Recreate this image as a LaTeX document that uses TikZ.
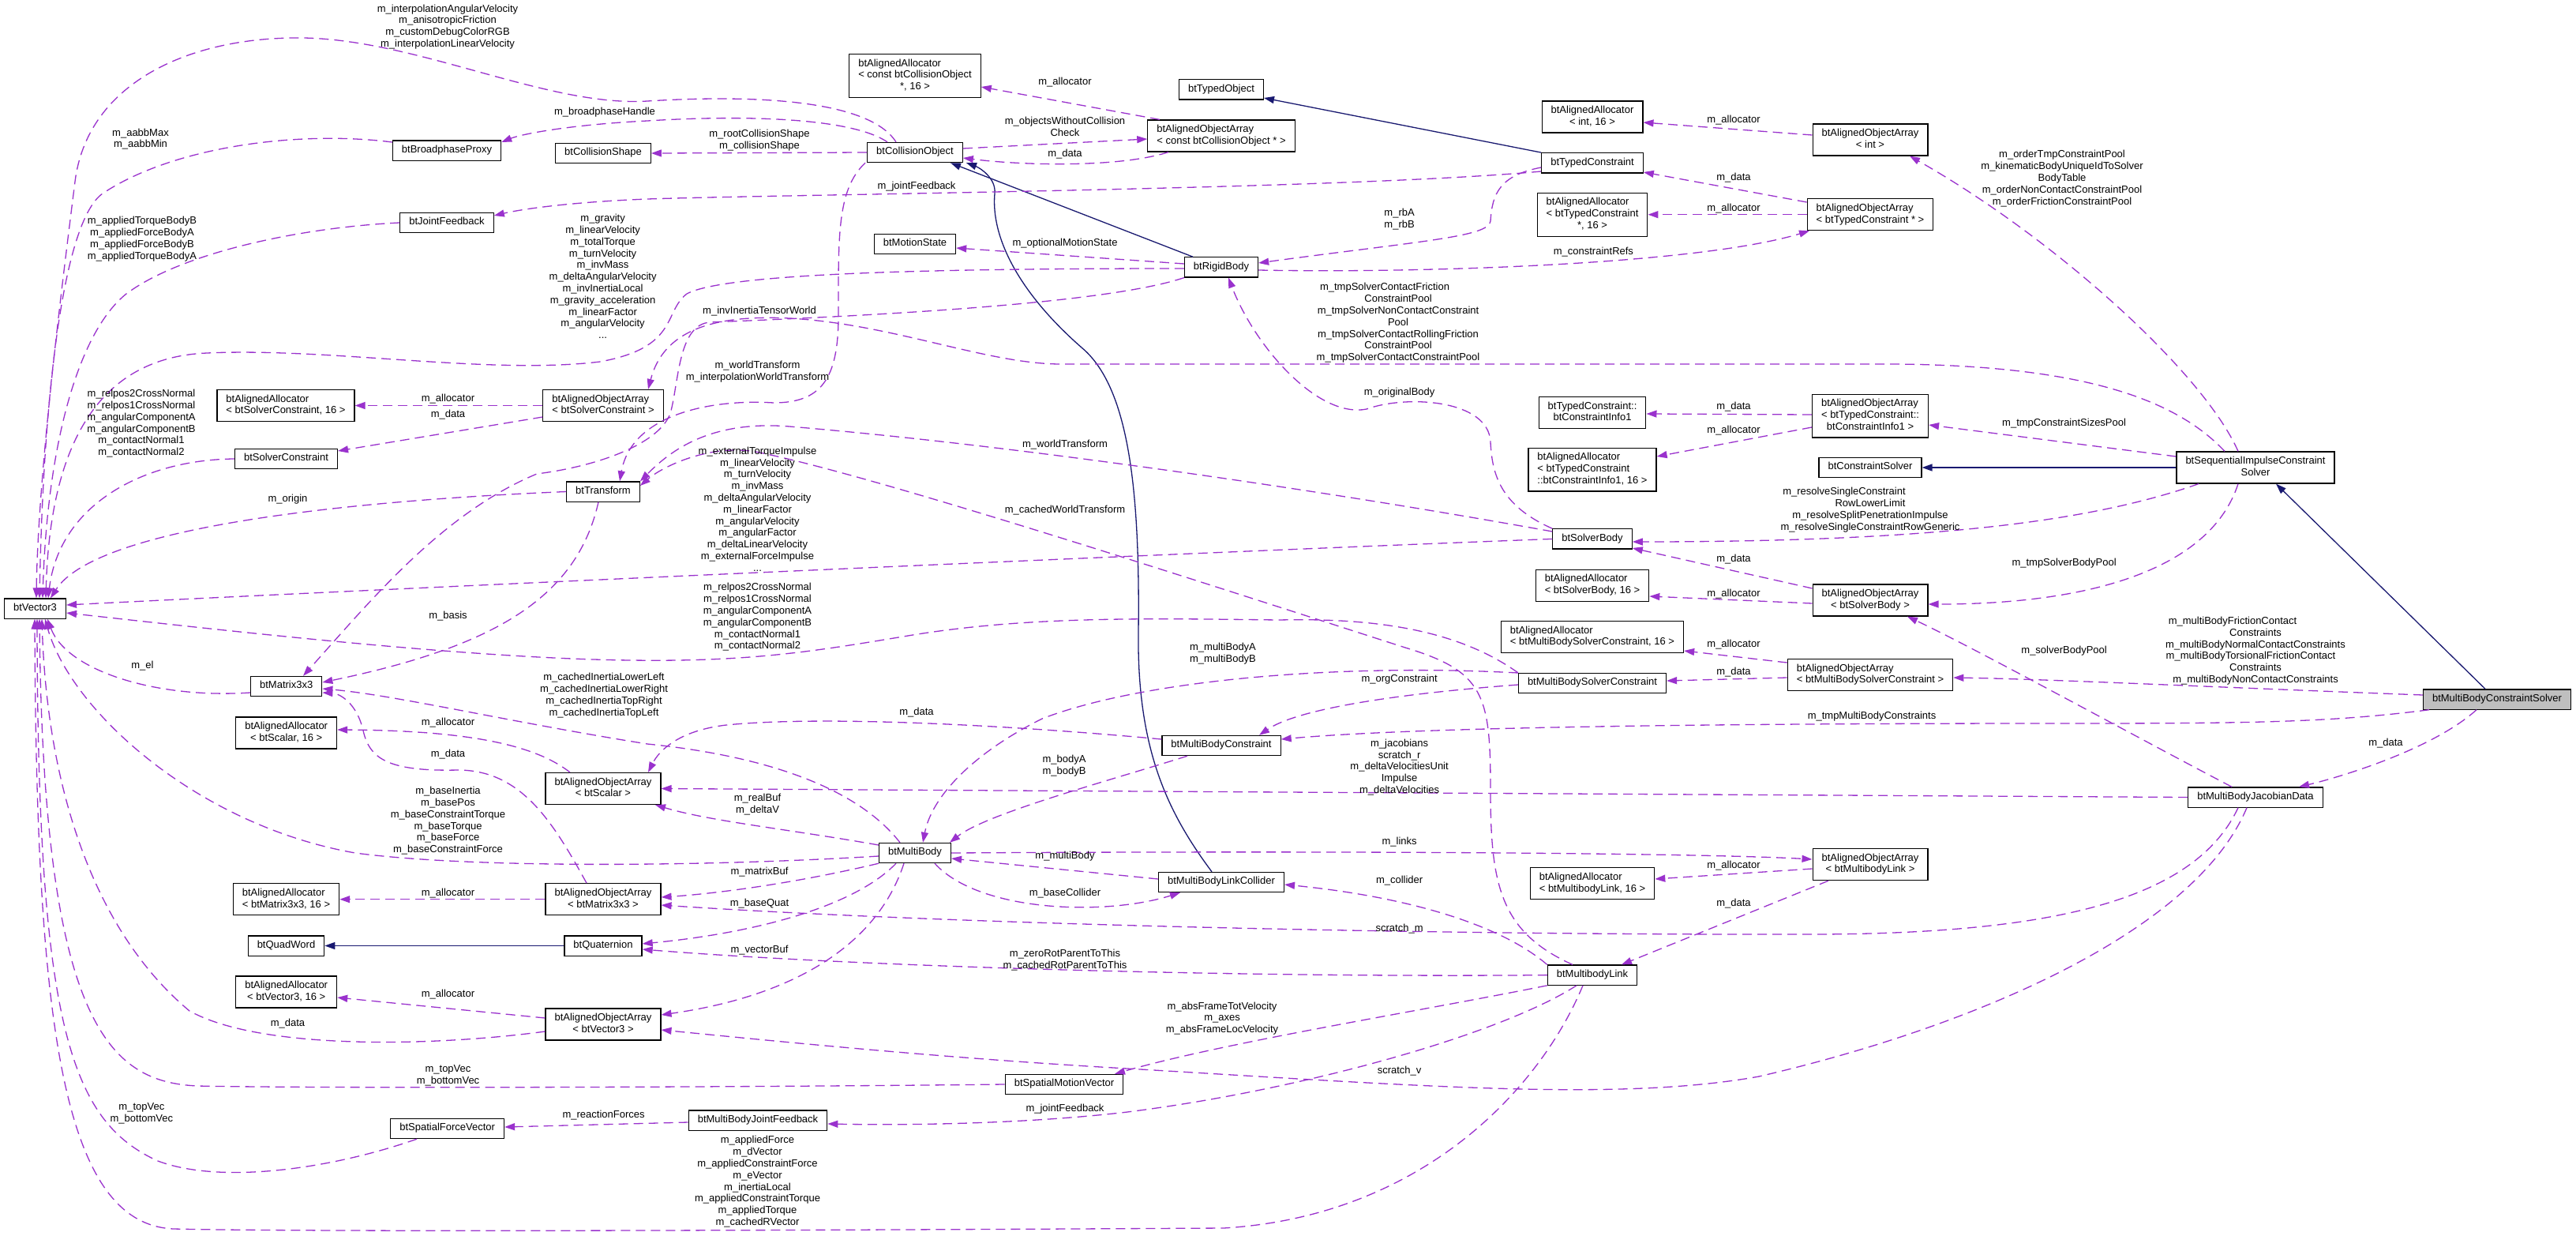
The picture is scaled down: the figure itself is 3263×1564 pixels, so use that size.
\documentclass[tikz,border=0pt]{standalone}
\usepackage{fontspec}
\setmainfont{Liberation Sans}
\usepackage{tikz}
\usetikzlibrary{arrows.meta}
\usetikzlibrary{calc}
\usepackage{xcolor}

\definecolor{memberpurple}{HTML}{9A32CD}
\definecolor{inheritblue}{HTML}{191970}
\definecolor{focusgrey}{HTML}{BFBFBF}

% class boxes with two or three lines: last line centred
\newcommand{\twol}[2]{\begin{tabular}{@{}l@{}}#1\\\multicolumn{1}{@{}c@{}}{#2}\end{tabular}}
\newcommand{\threel}[3]{\begin{tabular}{@{}l@{}}#1\\#2\\\multicolumn{1}{@{}c@{}}{#3}\end{tabular}}

\begin{document}
\begin{tikzpicture}[x=1pt, y=-1pt]
        % ================= styles =================
        \tikzset{
            % class box: white with black frame
            cnode/.style={draw=black, line width=1.2pt, fill=white, font=\fontsize{13}{14.8}\selectfont,
                inner xsep=11.5pt, inner ysep=5.2pt, execute at begin node=\strut},
            % member relation: purple dashed
            member_edge/.style={draw=memberpurple, line width=1.3pt, dash pattern=on 12pt off 7pt,
                -{Triangle[length=13pt,width=9pt]}},
            % inheritance: dark blue solid
            inherit_edge/.style={draw=inheritblue, line width=1.3pt, -{Triangle[length=13pt,width=9pt]}},
            % edge labels
            lbl/.style={font=\fontsize{13}{14.8}\selectfont, align=center, inner sep=0pt}
        }
        \fill[white] (0,0) rectangle (3263,1564);
        \useasboundingbox (0,0) rectangle (3263,1564);

        % ================= class nodes =================
        \node[cnode] (vec3) at (44.5,770.5) {btVector3};
        \node[cnode] (bpproxy) at (566,190.5) {btBroadphaseProxy};
        \node[cnode] (colshape) at (764,194) {btCollisionShape};
        \node[cnode] (jointfb) at (566,282) {btJointFeedback};
        \node[cnode] (aaSolvCon) at (362,513.5) {\twol{btAlignedAllocator}{< btSolverConstraint, 16 >}};
        \node[cnode] (aoaSolvCon) at (764,513.5) {\twol{btAlignedObjectArray}{< btSolverConstraint >}};
        \node[cnode] (solvcon) at (362.5,581) {btSolverConstraint};
        \node[cnode] (transform) at (764,622.5) {btTransform};
        \node[cnode] (matrix) at (362.7,869) {btMatrix3x3};
        \node[cnode] (aaScalar) at (362.7,928) {\twol{btAlignedAllocator}{< btScalar, 16 >}};
        \node[cnode] (aoaScalar) at (764,998.5) {\twol{btAlignedObjectArray}{< btScalar >}};
        \node[cnode] (aaMatrix) at (362.5,1138.7) {\twol{btAlignedAllocator}{< btMatrix3x3, 16 >}};
        \node[cnode] (aoaMatrix) at (764,1138.7) {\twol{btAlignedObjectArray}{< btMatrix3x3 >}};
        \node[cnode] (quadword) at (362.5,1197.5) {btQuadWord};
        \node[cnode] (quat) at (764,1197.5) {btQuaternion};
        \node[cnode] (aaVec) at (362.7,1256) {\twol{btAlignedAllocator}{< btVector3, 16 >}};
        \node[cnode] (aoaVec) at (764,1297) {\twol{btAlignedObjectArray}{< btVector3 >}};
        \node[cnode] (sforce) at (566.7,1429) {btSpatialForceVector};
        \node[cnode] (multibody) at (1159,1080) {btMultiBody};
        \node[cnode] (mbjointfb) at (960,1418.5) {btMultiBodyJointFeedback};
        \node[cnode] (smotion) at (1348,1373) {btSpatialMotionVector};
        \node[cnode] (linkcol) at (1547,1117) {btMultiBodyLinkCollider};
        \node[cnode] (mbcon) at (1547,944) {btMultiBodyConstraint};
        \node[cnode] (mbsolvcon) at (2017,865) {btMultiBodySolverConstraint};
        \node[cnode] (colobj) at (1159,193) {btCollisionObject};
        \node[cnode] (motion) at (1159,309) {btMotionState};
        \node[cnode] (aaColObj) at (1159,96) {\threel{btAlignedAllocator}{< const btCollisionObject}{ *, 16 >}};
        \node[cnode] (aoaColObj) at (1547,172) {\twol{btAlignedObjectArray}{< const btCollisionObject * >}};
        \node[cnode] (typedobj) at (1547,113.4) {btTypedObject};
        \node[cnode] (rigid) at (1547,338.4) {btRigidBody};
        \node[cnode] (typedcon) at (2017,206.3) {btTypedConstraint};
        \node[cnode] (aaInt) at (2017,148) {\twol{btAlignedAllocator}{< int, 16 >}};
        \node[cnode] (aoaInt) at (2369,177) {\twol{btAlignedObjectArray}{< int >}};
        \node[cnode] (aaTypedCon) at (2017,271.7) {\threel{btAlignedAllocator}{< btTypedConstraint}{ *, 16 >}};
        \node[cnode] (aoaTypedCon) at (2369,271.7) {\twol{btAlignedObjectArray}{< btTypedConstraint * >}};
        \node[cnode] (info) at (2017,522.6) {\twol{btTypedConstraint::}{btConstraintInfo1}};
        \node[cnode] (aoaInfo) at (2369,526.5) {\threel{btAlignedObjectArray}{< btTypedConstraint::}{btConstraintInfo1 >}};
        \node[cnode] (aaInfo) at (2017,594.5) {\threel{btAlignedAllocator}{< btTypedConstraint}{::btConstraintInfo1, 16 >}};
        \node[cnode] (consolver) at (2369,592) {btConstraintSolver};
        \node[cnode] (solvbody) at (2017,682.4) {btSolverBody};
        \node[cnode] (aaSolvBody) at (2017,741.3) {\twol{btAlignedAllocator}{< btSolverBody, 16 >}};
        \node[cnode] (aoaSolvBody) at (2369,760) {\twol{btAlignedObjectArray}{< btSolverBody >}};
        \node[cnode] (aaMBSolvCon) at (2017,806.5) {\twol{btAlignedAllocator}{< btMultiBodySolverConstraint, 16 >}};
        \node[cnode] (aoaMBSolvCon) at (2369,854.5) {\twol{btAlignedObjectArray}{< btMultiBodySolverConstraint >}};
        \node[cnode] (seqsolver) at (2857,592) {\twol{btSequentialImpulseConstraint}{Solver}};
        \node[cnode, fill=focusgrey] (mbsolver) at (3163,885.5) {btMultiBodyConstraintSolver};
        \node[cnode] (jacobian) at (2857,1009.5) {btMultiBodyJacobianData};
        \node[cnode] (aaLink) at (2017,1118.8) {\twol{btAlignedAllocator}{< btMultibodyLink, 16 >}};
        \node[cnode] (aoaLink) at (2369,1094.6) {\twol{btAlignedObjectArray}{< btMultibodyLink >}};
        \node[cnode] (mblink) at (2017,1234.6) {btMultibodyLink};

        % ================= inheritance =================
        \draw[inherit_edge] (rigid.north -| 1511,0) -- (colobj.south -| 1204,0);
        \draw[inherit_edge] (linkcol.north -| 1535,0) .. controls (1480,1030) and (1440,950) .. (1442,800)
            .. controls (1444,620) and (1430,490) .. (1370,440) .. controls (1290,370) and (1255,300) .. (1260,245)
            .. controls (1262,225) and (1240,212) .. (colobj.south -| 1224,0);
        \draw[inherit_edge] (typedcon.north west) -- (typedobj.east |- 0,124);
        \draw[inherit_edge] (seqsolver.west) -- (consolver.east);
        \draw[inherit_edge] (mbsolver.north -| 3148,0) -- (seqsolver.south -| 2883,0);
        \draw[inherit_edge] (quat.west) -- (quadword.east);

        % ================= members into btVector3 =================
        \draw[member_edge] (colobj.north -| 1135,0) .. controls (1100,125) and (950,120) .. (820,128)
            .. controls (690,136) and (520,45) .. (370,48) .. controls (230,50) and (110,110) .. (95,230)
            .. controls (80,350) and (48,600) .. (vec3.north -| 46,0);
        \draw[member_edge] (bpproxy.west |- 0,180) .. controls (380,165) and (220,185) .. (130,245)
            .. controls (80,280) and (55,500) .. (vec3.north -| 50,0);
        \draw[member_edge] (jointfb.west) .. controls (380,288) and (230,320) .. (160,372)
            .. controls (100,420) and (60,560) .. (vec3.north -| 54,0);
        \draw[member_edge] (rigid.west |- 0,340) .. controls (1200,340) and (920,345) .. (870,372)
            .. controls (840,395) and (860,440) .. (760,458) .. controls (620,475) and (420,440) .. (262,447)
            .. controls (140,452) and (64,540) .. (vec3.north -| 58,0);
        \draw[member_edge] (solvcon.west) .. controls (180,582) and (75,640) .. (vec3.north -| 61,0);
        \draw[member_edge] (transform.west) .. controls (420,635) and (120,670) .. (vec3.north -| 64,0);
        \draw[member_edge] (solvbody.west) .. controls (1500,700) and (500,745) .. (vec3.east |- 0,766);
        \draw[member_edge] (mbsolvcon.north west) .. controls (1850,800) and (1750,782) .. (1620,785)
            .. controls (1450,783) and (1300,780) .. (1150,805) .. controls (1030,825) and (950,838) .. (800,836)
            .. controls (600,834) and (300,800) .. (vec3.east |- 0,776);
        \draw[member_edge] (matrix.west |- 0,877) .. controls (200,885) and (85,850) .. (vec3.south -| 60,0);
        \draw[member_edge] (multibody.west |- 0,1084) .. controls (900,1097) and (600,1100) .. (450,1080)
            .. controls (250,1045) and (90,900) .. (vec3.south -| 57,0);
        \draw[member_edge] (aoaVec.west |- 0,1306) .. controls (550,1325) and (330,1330) .. (240,1280)
            .. controls (120,1180) and (60,1000) .. (vec3.south -| 53,0);
        \draw[member_edge] (smotion.west) .. controls (900,1377) and (400,1378) .. (250,1375)
            .. controls (140,1370) and (55,1300) .. (vec3.south -| 50,0);
        \draw[member_edge] (sforce.south -| 528,0) .. controls (420,1480) and (280,1500) .. (200,1470)
            .. controls (90,1420) and (48,1300) .. (vec3.south -| 47,0);
        \draw[member_edge] (mblink.south -| 2005,0) .. controls (1950,1380) and (1800,1540) .. (1550,1555)
            .. controls (1000,1558) and (400,1560) .. (220,1556) .. controls (80,1550) and (46,1300) .. (vec3.south -| 44,0);

        % ================= collision object side =================
        \draw[member_edge] (colobj.north -| 1124,0) .. controls (1080,150) and (950,145) .. (820,153)
            .. controls (720,158) and (660,170) .. (bpproxy.east |- 0,180);
        \draw[member_edge] (colobj.west) -- (colshape.east);
        \draw[member_edge] (colobj.east |- 0,188) -- (aoaColObj.west |- 0,176);
        \draw[member_edge] (aoaColObj.south -| 1480,0) .. controls (1420,212) and (1300,210) .. (colobj.east |- 0,200);
        \draw[member_edge] (aoaColObj.north -| 1469,0) -- (aaColObj.east |- 0,110);
        \draw[member_edge] (rigid.west |- 0,334) -- (motion.east |- 0,314);
        \draw[member_edge] (typedcon.west |- 0,212) .. controls (1900,222) and (1890,245) .. (1888,280)
            .. controls (1886,300) and (1800,305) .. (rigid.east |- 0,333);
        \draw[member_edge] (rigid.east |- 0,342) .. controls (1800,346) and (2150,335) .. (aoaTypedCon.south -| 2292,0);
        \draw[member_edge] (typedcon.west |- 0,217) .. controls (1700,240) and (1000,246) .. (820,252)
            .. controls (720,256) and (660,265) .. (jointfb.east |- 0,273);
        \draw[member_edge] (aoaInt.west |- 0,171) -- (aaInt.east |- 0,155);
        \draw[member_edge] (aoaTypedCon.west |- 0,256) -- (typedcon.east |- 0,218);
        \draw[member_edge] (aoaTypedCon.west) -- (aaTypedCon.east);
        \draw[member_edge] (colobj.south -| 1096,0) .. controls (1060,240) and (1062,300) .. (1062,400)
            .. controls (1062,480) and (1040,510) .. (980,510) .. controls (900,505) and (800,525) .. (transform.north -| 785,0);
        \draw[member_edge] (rigid.south west) .. controls (1400,385) and (1100,400) .. (900,408)
            .. controls (860,410) and (860,480) .. (850,520) .. controls (840,560) and (760,590) .. (680,600)
            .. controls (560,650) and (470,760) .. (matrix.north -| 384,0);

        % ================= solver side =================
        \draw[member_edge] (seqsolver.north -| 2835,0) .. controls (2790,470) and (2600,300) .. (aoaInt.south -| 2419,0);
        \draw[member_edge] (seqsolver.north -| 2818,0) .. controls (2760,510) and (2650,463) .. (2400,461)
            .. controls (2000,461) and (1600,461) .. (1344,461) .. controls (1250,461) and (1130,410) .. (1000,403)
            .. controls (900,398) and (840,420) .. (aoaSolvCon.north -| 821,0);
        \draw[member_edge] (seqsolver.west |- 0,578) -- (aoaInfo.east |- 0,538);
        \draw[member_edge] (seqsolver.south -| 2785,0) .. controls (2650,660) and (2450,686) .. (solvbody.east |- 0,686);
        \draw[member_edge] (seqsolver.south -| 2835,0) .. controls (2800,720) and (2650,765) .. (aoaSolvBody.east |- 0,765);
        \draw[member_edge] (aoaInfo.west |- 0,525) -- (info.east |- 0,524);
        \draw[member_edge] (aoaInfo.west |- 0,541) -- (aaInfo.east |- 0,578);
        \draw[member_edge] (aoaSolvBody.west |- 0,745) -- (solvbody.east |- 0,694);
        \draw[member_edge] (aoaSolvBody.west |- 0,764) -- (aaSolvBody.east |- 0,755);
        \draw[member_edge] (jacobian.north -| 2827,0) .. controls (2700,930) and (2500,820) .. (aoaSolvBody.south -| 2416,0);
        \draw[member_edge] (solvbody.north west) .. controls (1900,640) and (1890,600) .. (1888,560)
            .. controls (1886,505) and (1780,500) .. (1731,518) .. controls (1670,530) and (1590,440) .. (rigid.south -| 1556,0);
        \draw[member_edge] (solvbody.west |- 0,673) .. controls (1700,625) and (1300,565) .. (1000,540)
            .. controls (900,532) and (850,570) .. (transform.north east);
        \draw[member_edge] (mblink.north -| 1992,0) .. controls (1900,1180) and (1888,1120) .. (1888,1000)
            .. controls (1888,880) and (1880,850) .. (1780,820) .. controls (1500,730) and (1100,600) .. (957,572)
            .. controls (900,562) and (840,590) .. (transform.east |- 0,615);
        \draw[member_edge] (aoaSolvCon.west) -- (aaSolvCon.east);
        \draw[member_edge] (aoaSolvCon.west |- 0,528) -- (solvcon.east |- 0,571);
        \draw[member_edge] (transform.south -| 758,0) .. controls (730,760) and (620,820) .. (matrix.east |- 0,864);

        % ================= multibody side =================
        \draw[member_edge] (multibody.north -| 1140,0) .. controls (1080,990) and (950,955) .. (820,942)
            .. controls (650,915) and (500,880) .. (matrix.east |- 0,872);
        \draw[member_edge] (aoaMatrix.north -| 743,0) .. controls (700,1040) and (660,975) .. (580,975)
            .. controls (490,977) and (468,960) .. (460,925) .. controls (452,890) and (430,878) .. (matrix.east |- 0,877);
        \draw[member_edge] (aoaScalar.north -| 722,0) .. controls (680,945) and (600,925) .. (aaScalar.east |- 0,924);
        \draw[member_edge] (mbcon.west |- 0,936) .. controls (1300,920) and (1050,905) .. (920,918)
            .. controls (860,925) and (835,950) .. (aoaScalar.north -| 821,0);
        \draw[member_edge] (jacobian.west) -- (aoaScalar.east);
        \draw[member_edge] (multibody.west |- 0,1070) .. controls (1000,1050) and (900,1040) .. (aoaScalar.south -| 830,0);
        \draw[member_edge] (multibody.south west) .. controls (1000,1120) and (900,1132) .. (aoaMatrix.east |- 0,1136);
        \draw[member_edge] (multibody.south -| 1135,0) .. controls (1080,1150) and (950,1182) .. (quat.east |- 0,1195);
        \draw[member_edge] (multibody.south -| 1145,0) .. controls (1110,1200) and (1000,1262) .. (aoaVec.east |- 0,1285);
        \draw[member_edge] (multibody.east) .. controls (1700,1077) and (2150,1080) .. (aoaLink.west |- 0,1088);
        \draw[member_edge] (multibody.south -| 1184,0) .. controls (1240,1155) and (1400,1160) .. (linkcol.south -| 1495,0);
        \draw[member_edge] (linkcol.west |- 0,1113) -- (multibody.east |- 0,1087);
        \draw[member_edge] (mbcon.south -| 1504,0) .. controls (1400,990) and (1250,1030) .. (multibody.north -| 1203,0);
        \draw[member_edge] (mbsolvcon.west |- 0,852) .. controls (1700,840) and (1450,860) .. (1320,910)
            .. controls (1230,955) and (1180,1010) .. (multibody.north -| 1169,0);
        \draw[member_edge] (mbsolvcon.west |- 0,867) .. controls (1750,880) and (1640,900) .. (mbcon.north -| 1595,0);
        \draw[member_edge] (mbsolver.south -| 3077,0) .. controls (2950,915) and (2850,916) .. (2600,916)
            .. controls (2200,916) and (1800,920) .. (mbcon.east |- 0,936);
        \draw[member_edge] (mbsolver.south -| 3137,0) .. controls (3080,950) and (2960,985) .. (jacobian.north -| 2912,0);
        \draw[member_edge] (mbsolver.west |- 0,880) .. controls (2800,870) and (2600,860) .. (aoaMBSolvCon.east |- 0,858);
        \draw[member_edge] (aoaMBSolvCon.west |- 0,839) -- (aaMBSolvCon.east |- 0,824);
        \draw[member_edge] (aoaMBSolvCon.west |- 0,858) -- (mbsolvcon.east |- 0,862);
        \draw[member_edge] (jacobian.south -| 2835,0) .. controls (2780,1140) and (2600,1182) .. (2300,1183)
            .. controls (1800,1184) and (1200,1170) .. (aoaMatrix.east |- 0,1146);
        \draw[member_edge] (jacobian.south -| 2846,0) .. controls (2780,1180) and (2500,1300) .. (2228,1363)
            .. controls (2050,1395) and (1800,1375) .. (1428,1353) .. controls (1200,1340) and (1000,1320) .. (aoaVec.east |- 0,1304);
        \draw[member_edge] (mblink.north west) .. controls (1900,1170) and (1780,1135) .. (linkcol.east |- 0,1120);
        \draw[member_edge] (mblink.south -| 1997,0) .. controls (1900,1310) and (1650,1380) .. (1428,1408)
            .. controls (1300,1423) and (1150,1425) .. (mbjointfb.east |- 0,1423);
        \draw[member_edge] (mblink.south west) .. controls (1800,1280) and (1550,1320) .. (smotion.north -| 1412,0);
        \draw[member_edge] (mblink.west) .. controls (1600,1238) and (1100,1225) .. (quat.east |- 0,1202);
        \draw[member_edge] (aoaLink.west |- 0,1100) -- (aaLink.east |- 0,1113);
        \draw[member_edge] (aoaLink.south -| 2316,0) -- (mblink.north -| 2054,0);
        \draw[member_edge] (mbjointfb.west |- 0,1421) -- (sforce.east |- 0,1427);
        \draw[member_edge] (aoaVec.west |- 0,1289) -- (aaVec.east |- 0,1263);
        \draw[member_edge] (aoaMatrix.west) -- (aaMatrix.east);

        % ================= edge labels =================
        \node[lbl] (l_co_vec) at (567,34) {m\_interpolationAngularVelocity\\m\_anisotropicFriction\\m\_customDebugColorRGB\\m\_interpolationLinearVelocity};
        \node[lbl] (l_bp_vec) at (178,176) {m\_aabbMax\\m\_aabbMin};
        \node[lbl] (l_jf_vec) at (180,302.7) {m\_appliedTorqueBodyB\\m\_appliedForceBodyA\\m\_appliedForceBodyB\\m\_appliedTorqueBodyA};
        \node[lbl] (l_rb_vec) at (763.6,350) {m\_gravity\\m\_linearVelocity\\m\_totalTorque\\m\_turnVelocity\\m\_invMass\\m\_deltaAngularVelocity\\m\_invInertiaLocal\\m\_gravity\_acceleration\\m\_linearFactor\\m\_angularVelocity\\...};
        \node[lbl] (l_co_bp) at (766,142.6) {m\_broadphaseHandle};
        \node[lbl] (l_co_cs) at (962,177.8) {m\_rootCollisionShape\\m\_collisionShape};
        \node[lbl] (l_co_arr) at (1349,160) {m\_objectsWithoutCollision\\Check};
        \node[lbl] (l_arr_co) at (1349,195) {m\_data};
        \node[lbl] (l_arr_aa) at (1349,103.8) {m\_allocator};
        \node[lbl] (l_tc_jf) at (1161,236.6) {m\_jointFeedback};
        \node[lbl] (l_rb_ms) at (1349,308.6) {m\_optionalMotionState};
        \node[lbl] (l_tc_rb) at (1772.6,277.7) {m\_rbA\\m\_rbB};
        \node[lbl] (l_rb_tca) at (2018.4,318.7) {m\_constraintRefs};
        \node[lbl] (l_int_aa) at (2196,152) {m\_allocator};
        \node[lbl] (l_tca_tc) at (2196,224.8) {m\_data};
        \node[lbl] (l_tca_aa) at (2196,263.6) {m\_allocator};
        \node[lbl] (l_sis_int) at (2612,226.1) {m\_orderTmpConstraintPool\\m\_kinematicBodyUniqueIdToSolver\\BodyTable\\m\_orderNonContactConstraintPool\\m\_orderFrictionConstraintPool};
        \node[lbl] (l_sis_sca) at (1771,409) {\mbox{m\_tmpSolverContactFriction\hspace{34pt}}\\ConstraintPool\\m\_tmpSolverNonContactConstraint\\Pool\\m\_tmpSolverContactRollingFriction\\ConstraintPool\\m\_tmpSolverContactConstraintPool};
        \node[lbl] (l_rb_mat) at (962,393.8) {m\_invInertiaTensorWorld};
        \node[lbl] (l_co_tr) at (959.5,471) {m\_worldTransform\\m\_interpolationWorldTransform};
        \node[lbl] (l_sb_rb) at (1772.6,497) {m\_originalBody};
        \node[lbl] (l_sca_aa) at (567.5,504.6) {m\_allocator};
        \node[lbl] (l_sca_sc) at (567.5,524.8) {m\_data};
        \node[lbl] (l_sc_vec) at (179,536.3) {m\_relpos2CrossNormal\\m\_relpos1CrossNormal\\m\_angularComponentA\\m\_angularComponentB\\m\_contactNormal1\\m\_contactNormal2};
        \node[lbl] (l_ci_ci) at (2196,515.5) {m\_data};
        \node[lbl] (l_ci_aa) at (2196,544.8) {m\_allocator};
        \node[lbl] (l_sis_ci) at (2614.6,536) {m\_tmpConstraintSizesPool};
        \node[lbl] (l_sis_sb) at (2369,645.5) {\mbox{m\_resolveSingleConstraint\hspace{66pt}}\\RowLowerLimit\\m\_resolveSplitPenetrationImpulse\\m\_resolveSingleConstraintRowGeneric};
        \node[lbl] (l_sis_sba) at (2614.6,712.8) {m\_tmpSolverBodyPool};
        \node[lbl] (l_sba_sb) at (2196,707.7) {m\_data};
        \node[lbl] (l_sba_aa) at (2196,752.5) {m\_allocator};
        \node[lbl] (l_jd_sba) at (2614.6,824.4) {m\_solverBodyPool};
        \node[lbl] (l_mbs_msa) at (2857,824.1) {\mbox{m\_multiBodyFrictionContact\hspace{58pt}}\\Constraints\\m\_multiBodyNormalContactConstraints\\\mbox{m\_multiBodyTorsionalFrictionContact\hspace{12pt}}\\Constraints\\m\_multiBodyNonContactConstraints};
        \node[lbl] (l_msa_aa) at (2196,816) {m\_allocator};
        \node[lbl] (l_msa_msc) at (2196,850.6) {m\_data};
        \node[lbl] (l_msc_mbc) at (1772.6,860.6) {m\_orgConstraint};
        \node[lbl] (l_msc_mb) at (1549,828) {m\_multiBodyA\\m\_multiBodyB};
        \node[lbl] (l_mbs_mbc) at (2371,907.5) {m\_tmpMultiBodyConstraints};
        \node[lbl] (l_mbs_jd) at (3022,941) {m\_data};
        \node[lbl] (l_jd_scl) at (1772.6,971.5) {m\_jacobians\\scratch\_r\\m\_deltaVelocitiesUnit\\Impulse\\m\_deltaVelocities};
        \node[lbl] (l_sb_tr) at (1349,562.7) {m\_worldTransform};
        \node[lbl] (l_ml_tr) at (1349,646) {m\_cachedWorldTransform};
        \node[lbl] (l_sb_vec) at (959.5,644.6) {m\_externalTorqueImpulse\\m\_linearVelocity\\m\_turnVelocity\\m\_invMass\\m\_deltaAngularVelocity\\m\_linearFactor\\m\_angularVelocity\\m\_angularFactor\\m\_deltaLinearVelocity\\m\_externalForceImpulse\\...};
        \node[lbl] (l_msc_vec) at (959.5,781.5) {m\_relpos2CrossNormal\\m\_relpos1CrossNormal\\m\_angularComponentA\\m\_angularComponentB\\m\_contactNormal1\\m\_contactNormal2};
        \node[lbl] (l_tr_vec) at (364.5,632) {m\_origin};
        \node[lbl] (l_tr_mat) at (567.5,779.6) {m\_basis};
        \node[lbl] (l_mat_vec) at (180.4,843.4) {m\_el};
        \node[lbl] (l_mb_mat) at (765,880.6) {m\_cachedInertiaLowerLeft\\m\_cachedInertiaLowerRight\\m\_cachedInertiaTopRight\\m\_cachedInertiaTopLeft};
        \node[lbl] (l_scl_aa) at (567.5,915) {m\_allocator};
        \node[lbl] (l_mta_mat) at (567.5,954.6) {m\_data};
        \node[lbl] (l_mbc_scl) at (1161,902) {m\_data};
        \node[lbl] (l_mbc_mb) at (1348,969.8) {m\_bodyA\\m\_bodyB};
        \node[lbl] (l_mb_scl) at (959.5,1018.7) {m\_realBuf\\m\_deltaV};
        \node[lbl] (l_mb_vec) at (567.5,1039.2) {m\_baseInertia\\m\_basePos\\m\_baseConstraintTorque\\m\_baseTorque\\m\_baseForce\\m\_baseConstraintForce};
        \node[lbl] (l_mb_lka) at (1772.6,1066) {m\_links};
        \node[lbl] (l_lc_mb) at (1349,1084.5) {m\_multiBody};
        \node[lbl] (l_mb_mta) at (962,1104.3) {m\_matrixBuf};
        \node[lbl] (l_mta_aa) at (567.5,1131) {m\_allocator};
        \node[lbl] (l_mb_lc) at (1349,1131) {m\_baseCollider};
        \node[lbl] (l_mb_q) at (962,1144) {m\_baseQuat};
        \node[lbl] (l_ml_lc) at (1772.6,1115.4) {m\_collider};
        \node[lbl] (l_lka_aa) at (2196,1095.6) {m\_allocator};
        \node[lbl] (l_lka_ml) at (2196,1143.8) {m\_data};
        \node[lbl] (l_jd_mta) at (1772.6,1176) {scratch\_m};
        \node[lbl] (l_mb_va) at (962,1203) {m\_vectorBuf};
        \node[lbl] (l_ml_q) at (1349,1215.8) {m\_zeroRotParentToThis\\m\_cachedRotParentToThis};
        \node[lbl] (l_va_aa) at (567.5,1259) {m\_allocator};
        \node[lbl] (l_ml_smv) at (1548,1289.5) {m\_absFrameTotVelocity\\m\_axes\\m\_absFrameLocVelocity};
        \node[lbl] (l_va_vec) at (364.5,1295.8) {m\_data};
        \node[lbl] (l_smv_vec) at (567.5,1361.7) {m\_topVec\\m\_bottomVec};
        \node[lbl] (l_jd_va) at (1772.6,1356.5) {scratch\_v};
        \node[lbl] (l_ml_jf) at (1349,1404) {m\_jointFeedback};
        \node[lbl] (l_sfv_vec) at (179.4,1409.5) {m\_topVec\\m\_bottomVec};
        \node[lbl] (l_jf_sfv) at (764.6,1412) {m\_reactionForces};
        \node[lbl] (l_ml_vec) at (959.5,1496.3) {m\_appliedForce\\m\_dVector\\m\_appliedConstraintForce\\m\_eVector\\m\_inertiaLocal\\m\_appliedConstraintTorque\\m\_appliedTorque\\m\_cachedRVector};

    \end{tikzpicture}
\end{document}
